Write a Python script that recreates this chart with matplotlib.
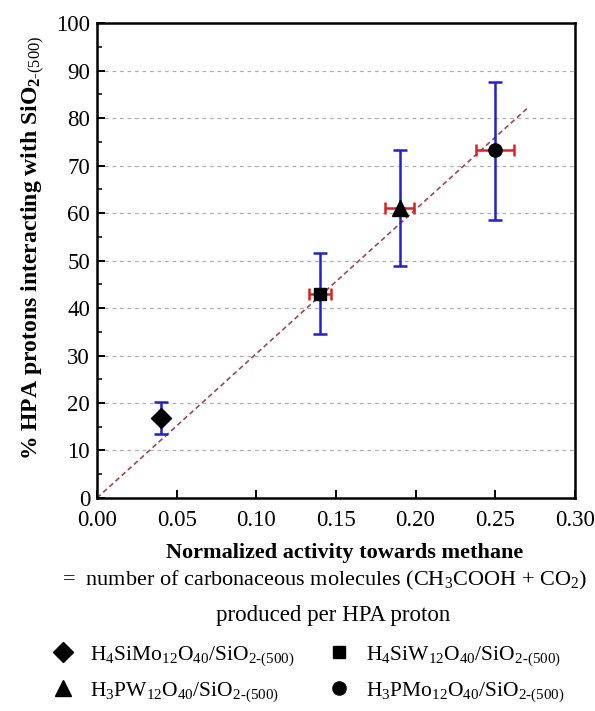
import matplotlib
matplotlib.use("Agg")
import matplotlib.pyplot as plt
from matplotlib.ticker import MultipleLocator, FormatStrFormatter

plt.rcParams['font.family'] = ['Liberation Serif', 'DejaVu Serif']
plt.rcParams['mathtext.fontset'] = 'custom'
plt.rcParams['mathtext.rm'] = 'Liberation Serif'
plt.rcParams['mathtext.it'] = 'Liberation Serif:italic'
plt.rcParams['mathtext.bf'] = 'Liberation Serif:bold'

# data
labels = [r"H$_4$SiMo$_{12}$O$_{40}$/SiO$_{2\text{-(500)}}$",
          r"H$_4$SiW$_{12}$O$_{40}$/SiO$_{2\text{-(500)}}$",
          r"H$_3$PW$_{12}$O$_{40}$/SiO$_{2\text{-(500)}}$",
          r"H$_3$PMo$_{12}$O$_{40}$/SiO$_{2\text{-(500)}}$"]
markers = ["D", "s", "^", "o"]
x_act = [0.04, 0.14, 0.19, 0.25]
y_prot = [16.8, 43.0, 61.0, 73.2]
y_low = [13.5, 34.5, 48.9, 58.5]
y_high = [20.3, 51.6, 73.3, 87.6]
x_err = [0.0, 0.007, 0.009, 0.012]
fit_x = [0.0, 0.27]
fit_y = [0.0, 82.0]

fig = plt.figure(figsize=(5.95, 7.11), dpi=100)
ax = fig.add_axes([0.163, 0.2996, 0.803, 0.668])

ax.yaxis.grid(True, linestyle=(0, (3, 3)), color='#b0b0b0', linewidth=0.9)
ax.set_axisbelow(True)

ax.plot(fit_x, fit_y, linestyle=(0, (3, 2)), color='#a04858', linewidth=1.2, zorder=2)

msize = {"D": 10, "s": 9, "^": 12, "o": 9.5}
handles = []
for xi, yi, lo, hi, xe, m, lab in zip(x_act, y_prot, y_low, y_high, x_err, markers, labels):
    ax.errorbar([xi], [yi], yerr=[[yi - lo], [hi - yi]], fmt='none', ecolor='#2020d0',
                elinewidth=1.8, capsize=5, capthick=1.8, zorder=3)
    if xe > 0:
        ax.errorbar([xi], [yi], xerr=[[xe], [xe]], fmt='none', ecolor='#e02020',
                    elinewidth=1.8, capsize=4, capthick=1.8, zorder=3)
    h, = ax.plot([xi], [yi], marker=m, color='black', markersize=msize[m],
                 linestyle='none', zorder=4, label=lab)
    handles.append(h)

ax.set_xlim(0, 0.30)
ax.set_ylim(0, 100)
ax.xaxis.set_major_locator(MultipleLocator(0.05))
ax.yaxis.set_major_locator(MultipleLocator(10))
ax.yaxis.set_minor_locator(MultipleLocator(5))
ax.xaxis.set_major_formatter(FormatStrFormatter('%.2f'))
ax.tick_params(axis='both', which='major', direction='in', length=6, width=1.4,
               labelsize=16.5, top=False, right=False)
ax.tick_params(axis='x', which='major', pad=9)
ax.tick_params(axis='y', which='major', pad=5)
ax.tick_params(axis='y', which='minor', direction='in', length=3.5, width=1.1)
for s in ax.spines.values():
    s.set_linewidth(1.8)

fig.text(33 / 595, 1 - 248 / 711,
         r"% HPA protons interacting with SiO$_{\mathbf{2\text{-(500)}}}$",
         rotation=90, ha='center', va='center', fontsize=17, fontweight='bold')

fig.text(345 / 595, 1 - 553 / 711, "Normalized activity towards methane",
         ha='center', va='center', fontsize=16, fontweight='bold')
fig.text(62 / 595, 1 - 580 / 711,
         r"=  number of carbonaceous molecules (CH$_3$COOH + CO$_2$)",
         ha='left', va='center', fontsize=16)
fig.text(333 / 595, 1 - 616 / 711, "produced per HPA proton",
         ha='center', va='center', fontsize=16.5)

order = [0, 2, 1, 3]
leg = fig.legend([handles[i] for i in order], [labels[i] for i in order],
                 loc='upper left', bbox_to_anchor=(52 / 595, 1 - 644 / 711), ncol=2,
                 frameon=False, fontsize=15.5, handlelength=1.0, handletextpad=0.75,
                 columnspacing=1.6, labelspacing=0.55, borderpad=0, borderaxespad=0)

fig.savefig("out.png", dpi=100)
